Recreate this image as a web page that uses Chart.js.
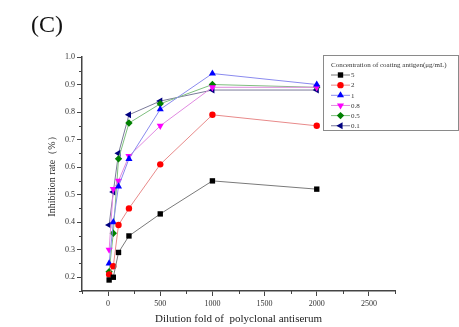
<!DOCTYPE html>
<html lang="en">
<head>
<meta charset="UTF-8">
<title>Inhibition rate chart</title>
<script src="https://cdn.jsdelivr.net/npm/chart.js@4.4.1/dist/chart.umd.min.js"></script>
<style>
  html, body { margin: 0; padding: 0; background: #fff; }
  #wrap { width: 459px; height: 327px; position: relative; }
</style>
</head>
<body>
<div id="wrap"><canvas id="chart" width="459" height="327"></canvas></div>
<script>
// dilution fold (x values)
const dilution = [10, 50, 100, 200, 500, 1000, 2000];
// one series per coating antigen concentration (ug/mL)
const conc5   = [0.19, 0.20, 0.29, 0.35, 0.43, 0.55, 0.52];
const conc2   = [0.21, 0.24, 0.39, 0.45, 0.61, 0.79, 0.75];
const conc1   = [0.25, 0.40, 0.53, 0.63, 0.81, 0.94, 0.90];
const conc08  = [0.30, 0.52, 0.55, 0.64, 0.75, 0.89, 0.89];
const conc05  = [0.22, 0.36, 0.63, 0.76, 0.83, 0.90, 0.89];
const conc01  = [0.39, 0.51, 0.65, 0.79, 0.84, 0.88, 0.88];
const seriesLabels = ['5', '2', '1', '0.8', '0.5', '0.1'];
const xTicks = [0, 500, 1000, 1500, 2000, 2500];
const yTicks = [0.2, 0.3, 0.4, 0.5, 0.6, 0.7, 0.8, 0.9, 1.0];

const serif = "'Liberation Serif', 'DejaVu Serif', serif";

function pts(ys) {
  return ys.map((y, i) => ({ x: dilution[i], y: y }));
}

function makeSet(label, ys, line, fill, style, rot, r) {
  return {
    label: label,
    data: pts(ys),
    borderColor: line,
    borderWidth: 1,
    backgroundColor: fill,
    pointBackgroundColor: fill,
    pointBorderColor: fill,
    pointBorderWidth: 0,
    pointStyle: style,
    pointRotation: rot,
    pointRadius: r,
    pointHoverRadius: r,
    tension: 0
  };
}

const datasets = [
  makeSet(seriesLabels[0], conc5,  '#7a7a7a', '#000000', 'rect', 0, 3.8),
  makeSet(seriesLabels[1], conc2,  '#e88a8a', '#ff0000', 'circle', 0, 3.2),
  makeSet(seriesLabels[2], conc1,  '#8a8aee', '#0000ff', 'triangle', 0, 4.1),
  makeSet(seriesLabels[3], conc08, '#e08ae0', '#ff00ff', 'triangle', 180, 4.1),
  makeSet(seriesLabels[4], conc05, '#7fbf7f', '#008000', 'rectRot', 0, 3.7),
  makeSet(seriesLabels[5], conc01, '#7a7a9a', '#000080', 'triangle', -90, 4.1)
];

// minor ticks, panel letter and legend box
const extras = {
  id: 'extras',
  afterDraw(chart) {
    const ctx = chart.ctx;
    const xs = chart.scales.x, ys = chart.scales.y;
    const area = chart.chartArea;
    ctx.save();
    ctx.strokeStyle = '#444';
    ctx.lineWidth = 1;
    ctx.beginPath();
    for (let v = -250; v <= 2750; v += 500) {
      const px = Math.round(xs.getPixelForValue(v)) + 0.5;
      ctx.moveTo(px, area.bottom);
      ctx.lineTo(px, area.bottom + 3);
    }
    for (let v = 0.15; v < 1.0; v += 0.1) {
      const py = Math.round(ys.getPixelForValue(v)) + 0.5;
      ctx.moveTo(area.left, py);
      ctx.lineTo(area.left - 3, py);
    }
    ctx.stroke();

    // panel letter
    ctx.fillStyle = '#111';
    ctx.font = '24px ' + serif;
    ctx.textBaseline = 'middle';
    ctx.textAlign = 'left';
    ctx.fillText('(C)', 31, 26);

    // legend
    const bx = 323, by = 55, bw = 135, bh = 75;
    ctx.strokeStyle = '#8a8a8a';
    ctx.strokeRect(bx + 0.5, by + 0.5, bw, bh);
    ctx.fillStyle = '#333';
    ctx.font = '7px ' + serif;
    ctx.fillText('Concentration of coating antigen(\u03bcg/mL)', 331, 65);
    chart.data.datasets.forEach((ds, i) => {
      const cy = 75 + i * 10.15;
      ctx.strokeStyle = ds.borderColor;
      ctx.beginPath();
      ctx.moveTo(331, cy);
      ctx.lineTo(350, cy);
      ctx.stroke();
      ctx.fillStyle = ds.pointBackgroundColor;
      ctx.strokeStyle = ds.pointBackgroundColor;
      Chart.helpers.drawPoint(ctx, {
        pointStyle: ds.pointStyle,
        rotation: ds.pointRotation,
        radius: ds.pointRadius,
        borderWidth: 0
      }, 340.5, cy);
      ctx.fillStyle = '#333';
      ctx.fillText(ds.label, 351, cy + 0.5);
    });
    ctx.restore();
  }
};

new Chart(document.getElementById('chart'), {
  type: 'line',
  data: { datasets: datasets },
  plugins: [extras],
  options: {
    responsive: false,
    animation: false,
    layout: { padding: { left: 0, right: 64, top: 57, bottom: 0 } },
    plugins: { legend: { display: false }, tooltip: { enabled: false } },
    scales: {
      x: {
        type: 'linear',
        min: -250,
        max: 2750,
        afterBuildTicks: (s) => { s.ticks = xTicks.map(v => ({ value: v })); },
        afterFit: (s) => { s.height = 36; },
        border: { color: '#444', width: 1.5 },
        grid: { drawOnChartArea: false, drawTicks: true, tickLength: 5, color: '#444' },
        ticks: {
          color: '#333',
          font: { family: serif, size: 8 },
          padding: 3,
          maxRotation: 0,
          callback: (v) => String(v)
        },
        title: {
          display: true,
          text: 'Dilution fold of  polyclonal antiserum',
          color: '#222',
          font: { family: serif, size: 11 },
          padding: { top: 0, bottom: 1 }
        }
      },
      y: {
        min: 0.15,
        max: 1.0,
        afterBuildTicks: (s) => { s.ticks = yTicks.map(v => ({ value: v })); },
        afterFit: (s) => { s.width = 82; },
        border: { color: '#444', width: 1.5 },
        grid: { drawOnChartArea: false, drawTicks: true, tickLength: 5, color: '#444' },
        ticks: {
          color: '#333',
          font: { family: serif, size: 8 },
          padding: 2,
          callback: (v) => Number(v).toFixed(1)
        },
        title: {
          display: true,
          text: 'Inhibition rate\uff08%\uff09',
          color: '#222',
          font: { family: serif, size: 10 },
          padding: { top: 46, bottom: 0 }
        }
      }
    }
  }
});
</script>
</body>
</html>
